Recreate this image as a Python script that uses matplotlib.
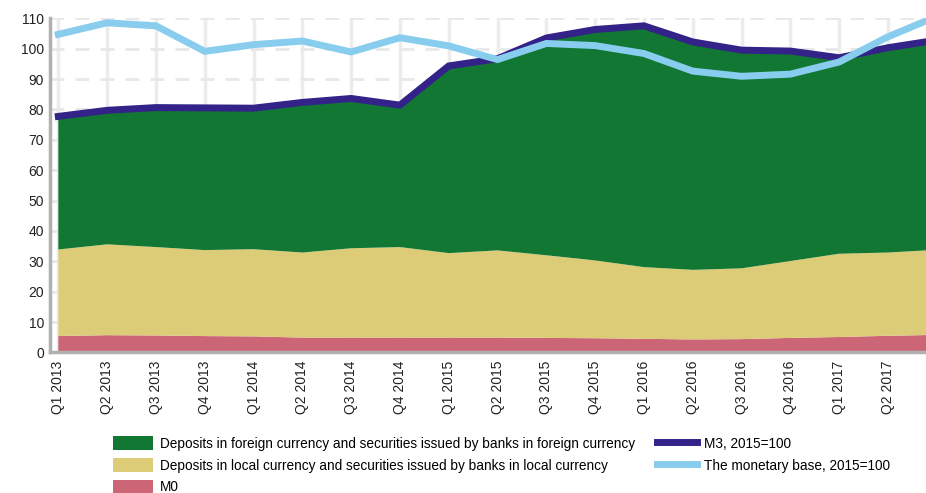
import numpy as np
import matplotlib.pyplot as plt

quarters = ['Q1 2013', 'Q2 2013', 'Q3 2013', 'Q4 2013',
            'Q1 2014', 'Q2 2014', 'Q3 2014', 'Q4 2014',
            'Q1 2015', 'Q2 2015', 'Q3 2015', 'Q4 2015',
            'Q1 2016', 'Q2 2016', 'Q3 2016', 'Q4 2016',
            'Q1 2017', 'Q2 2017', 'Q3 2017']

# stacked components
m0 = [5.4, 5.7, 5.6, 5.4, 5.3, 4.9, 4.9, 4.9, 4.9, 4.9,
      4.8, 4.7, 4.5, 4.3, 4.4, 4.8, 5.1, 5.5, 5.8]
dep_local = [28.5, 29.9, 29.1, 28.3, 28.7, 28.0, 29.4, 29.8, 27.8, 28.7,
             27.2, 25.6, 23.6, 22.9, 23.3, 25.3, 27.4, 27.4, 28.0]
dep_foreign = [43.8, 44.1, 45.9, 46.8, 46.4, 49.4, 49.3, 46.7, 61.6, 63.1,
               71.5, 76.0, 79.4, 75.0, 71.8, 69.1, 64.5, 67.1, 69.0]

# lines
m3 = [77.7, 79.7, 80.6, 80.5, 80.4, 82.3, 83.6, 81.4, 94.3, 96.7,
      103.5, 106.3, 107.5, 102.2, 99.5, 99.2, 97.0, 100.3, 102.8]
mon_base = [104.7, 108.5, 107.5, 99.1, 101.3, 102.5, 98.9, 103.6, 100.9, 96.4,
            101.7, 101.0, 98.4, 92.6, 90.9, 91.6, 95.6, 103.9, 110.6]

plt.rcParams['font.family'] = ['Liberation Sans', 'DejaVu Sans']

x = np.arange(len(quarters))

fig = plt.figure(figsize=(9.26, 4.93), dpi=100)
ax = fig.add_axes([0.0535, 0.285, 0.9465, 0.678])

polys = ax.stackplot(x, m0, dep_local, dep_foreign,
                     colors=['#cc6677', '#ddcc77', '#117733'],
                     labels=['M0',
                             'Deposits in local currency and securities issued by banks in local currency',
                             'Deposits in foreign currency and securities issued by banks in foreign currency'],
                     linewidth=0)
l1, = ax.plot(x, m3, color='#332288', lw=5, solid_joinstyle='miter', label='M3, 2015=100')
l2, = ax.plot(x, mon_base, color='#88ccee', lw=5, solid_joinstyle='miter',
              label='The monetary base, 2015=100')

ax.set_yticks(np.arange(0, 111, 10))
ax.set_xticks(x)
ax.set_xticklabels(quarters, rotation=90)
# set limits after the ticks, set_xticks would widen them
ax.set_xlim(-0.18, 17.78)
ax.set_ylim(0, 110)
ax.tick_params(length=0, labelsize=10, colors='#222222')
ax.tick_params(axis='x', pad=6)
ax.tick_params(axis='y', pad=4)

ax.set_axisbelow(True)
ax.yaxis.grid(True, color='#e8e8e8', lw=2, dashes=(5, 4))
ax.xaxis.grid(True, color='#ececec', lw=2.5)

for s in ['top', 'right']:
    ax.spines[s].set_visible(False)
for s in ['left', 'bottom']:
    ax.spines[s].set_color('#b0b0b0')
    ax.spines[s].set_linewidth(2.5)

handles = [polys[2], polys[1], polys[0], l1, l2]
labels = [h.get_label() for h in handles]
fig.legend(handles, labels, ncol=2, loc='upper left',
           bbox_to_anchor=(113 / 926, 1 - 436 / 493), frameon=False,
           fontsize=9.8, handlelength=2.94, handleheight=1.25, handletextpad=0.5,
           columnspacing=1.6, labelspacing=0.52, borderpad=0, borderaxespad=0)

plt.savefig('out.png', dpi=100)
